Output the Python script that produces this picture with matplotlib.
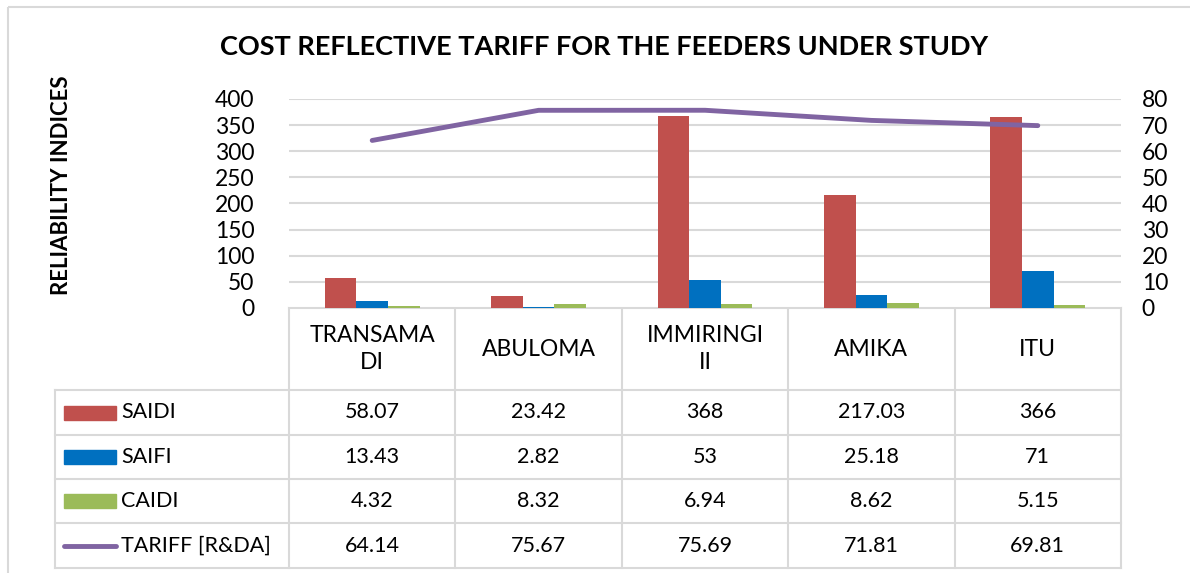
import numpy as np
import matplotlib.pyplot as plt
from matplotlib.patches import Rectangle

plt.rcParams['font.family'] = ['Lato', 'DejaVu Sans']

feeders = ["TRANSAMA\nDI", "ABULOMA", "IMMIRINGI\nII", "AMIKA", "ITU"]
saidi = [58.07, 23.42, 368, 217.03, 366]
saifi = [13.43, 2.82, 53, 25.18, 71]
caidi = [4.32, 8.32, 6.94, 8.62, 5.15]
tariff = [64.14, 75.67, 75.69, 71.81, 69.81]
row_labels = ["SAIDI", "SAIFI", "CAIDI", "TARIFF [R&DA]"]
row_text = [["58.07", "23.42", "368", "217.03", "366"],
            ["13.43", "2.82", "53", "25.18", "71"],
            ["4.32", "8.32", "6.94", "8.62", "5.15"],
            ["64.14", "75.67", "75.69", "71.81", "69.81"]]

c_red, c_blue, c_green, c_purple = "#C0504D", "#0070C0", "#9BBB59", "#8064A2"
grid_c = "#D9D9D9"
W, H = 1190, 573

fig = plt.figure(figsize=(11.9, 5.73), dpi=100)

# overlay in pixel coordinates for frame + table
pix = fig.add_axes([0, 0, 1, 1])
pix.set_xlim(0, W)
pix.set_ylim(H, 0)
pix.axis("off")
pix.add_patch(Rectangle((8, 7), W, H, fill=False, ec=grid_c, lw=1.5))

x0, x1, y0, y1 = 289, 1121, 99, 308
ax = fig.add_axes([x0 / W, 1 - y1 / H, (x1 - x0) / W, (y1 - y0) / H])
x = np.arange(len(feeders))
bw = 0.19
ax.bar(x - bw, saidi, bw, color=c_red)
ax.bar(x, saifi, bw, color=c_blue)
ax.bar(x + bw, caidi, bw, color=c_green)
ax.set_xlim(-0.5, 4.5)
ax.set_ylim(0, 400)
ax.set_yticks(np.arange(0, 401, 50))
ax.set_xticks([])
ax.yaxis.grid(True, color=grid_c, lw=1.5)
ax.set_axisbelow(True)
for s in ax.spines.values():
    s.set_visible(False)
ax.tick_params(axis="y", length=0, labelsize=16.5, pad=25)

ax2 = ax.twinx()
ax2.plot(x, tariff, color=c_purple, lw=3.5, solid_capstyle="round")
ax2.set_ylim(0, 80)
ax2.set_yticks(np.arange(0, 81, 10))
for s in ax2.spines.values():
    s.set_visible(False)
ax2.tick_params(axis="y", length=0, labelsize=16.5, pad=15)

fig.text(604 / W, 1 - 47 / H, "COST REFLECTIVE TARIFF FOR THE FEEDERS UNDER STUDY",
         ha="center", va="center", fontsize=19.5, fontweight="bold")
fig.text(62 / W, 1 - 185 / H, "RELIABILITY INDICES", rotation=90,
         ha="center", va="center", fontsize=16, fontweight="bold")

# data table
cw = (x1 - x0) / len(feeders)
rows_y = [308, 390, 435, 479, 523, 568]
lk = dict(color=grid_c, lw=1.5)
pix.plot([x0, x1], [rows_y[0], rows_y[0]], **lk)
for yy in rows_y[1:]:
    pix.plot([55, x1], [yy, yy], **lk)
pix.plot([55, 55], [rows_y[1], rows_y[-1]], **lk)
for i in range(len(feeders) + 1):
    pix.plot([x0 + i * cw] * 2, [rows_y[0], rows_y[-1]], **lk)

for i, name in enumerate(feeders):
    pix.text(x0 + (i + 0.5) * cw, (rows_y[0] + rows_y[1]) / 2, name,
             ha="center", va="center", fontsize=16.5, linespacing=1.3)

key_c = [c_red, c_blue, c_green]
for r, lab in enumerate(row_labels):
    yc = (rows_y[r + 1] + rows_y[r + 2]) / 2
    if r < 3:
        pix.add_patch(Rectangle((64, yc - 7), 52, 14, color=key_c[r]))
    else:
        pix.plot([64, 116], [yc, yc], color=c_purple, lw=3.5, solid_capstyle="round")
    pix.text(121, yc, lab, ha="left", va="center", fontsize=15.5)
    for i, v in enumerate(row_text[r]):
        pix.text(x0 + (i + 0.5) * cw, yc, v, ha="center", va="center", fontsize=15.5)

fig.savefig("out.png", dpi=100)
